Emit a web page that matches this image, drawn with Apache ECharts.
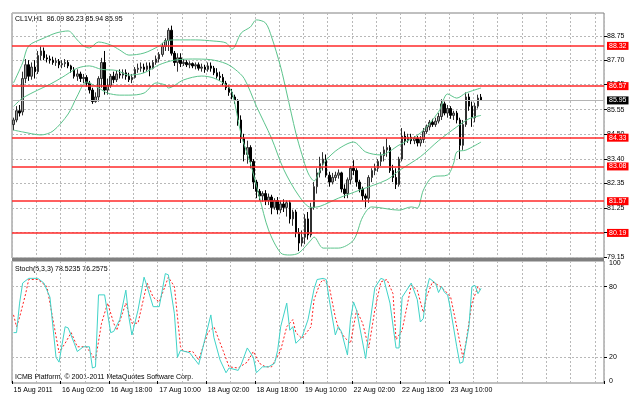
<!DOCTYPE html>
<html>
<head>
<meta charset="utf-8">
<title>CL1V,H1</title>
<script src="https://cdn.jsdelivr.net/npm/echarts@6/dist/echarts.min.js"></script>
<style>
  html, body { margin: 0; padding: 0; background: #fff; }
  #chart { width: 632px; height: 399px; }
</style>
</head>
<body>
<div id="chart"></div>
<script>
// CL1V hourly bars, 15-23 Aug 2011
var symbol = 'CL1V,H1';

var opens = [84.9,85.1,85.5,85.45,86.9,87.5,87.0,87.4,87.2,87.9, 88.1,87.8,87.75,87.7,87.6,87.65,87.5,87.55,87.6,87.45,
  87.3,87.0,87.1,86.9,86.95,86.7,86.4,85.9,86.1,86.9, 87.6,86.4,86.6,87.0,86.85,87.1,87.05,87.15,87.0,86.85,
  86.95,87.3,87.35,87.4,87.3,87.45,87.35,87.6,87.75,87.95, 88.3,88.55,89.0,88.0,87.6,87.8,87.55,87.6,87.5,87.55,
  87.45,87.5,87.35,87.4,87.3,87.45,87.35,87.15,87.0,86.95, 86.7,86.5,86.3,86.1,85.95,85.1,84.3,83.6,83.9,83.3,
  82.4,82.0,81.8,81.9,81.6,81.75,81.3,81.6,81.2,81.45, 81.3,81.5,80.8,81.1,80.2,79.75,80.0,80.8,80.1,81.3,
  82.2,82.8,83.2,83.4,82.7,82.4,82.6,82.7,82.8,82.1, 81.9,82.5,83.0,82.9,82.4,82.1,81.8,81.7,82.6,82.9,
  83.0,83.3,83.55,83.8,83.9,82.9,82.6,82.3,83.4,84.4, 84.2,84.35,84.2,84.3,84.1,84.25,84.6,84.8,85.0,84.9,
  85.05,85.25,85.8,85.4,85.6,85.3,85.4,85.1,84.0,84.9, 86.1,85.7,85.2,85.7,86.09];
var highs = [85.2,85.7,85.75,87.2,87.75,87.7,87.6,87.7,88.1,88.3, 88.25,87.95,87.9,87.85,87.8,87.75,87.7,87.75,87.7,87.5,
  87.4,87.3,87.2,87.1,87.05,86.8,86.5,86.3,87.0,87.8, 88.1,86.9,87.1,87.2,87.25,87.3,87.3,87.3,87.15,87.1,
  87.4,87.55,87.6,87.55,87.6,87.6,87.7,87.9,88.05,88.45, 88.65,89.1,89.2,88.1,88.0,88.0,87.75,87.7,87.65,87.6,
  87.6,87.6,87.55,87.5,87.6,87.6,87.45,87.35,87.2,87.1, 86.8,86.6,86.45,86.2,86.0,85.3,84.5,84.2,84.0,83.4,
  82.5,82.1,82.0,82.05,81.9,81.85,81.7,81.75,81.6,81.65, 81.6,81.6,81.2,81.2,80.4,80.3,81.0,81.1,81.5,82.4,
  83.0,83.5,83.7,83.6,82.85,82.8,82.85,82.95,82.85,82.3, 82.6,83.1,83.35,83.0,82.5,82.2,81.9,82.7,83.0,83.2,
  83.4,83.7,83.95,84.3,84.0,83.15,83.0,83.5,84.75,84.6, 84.5,84.5,84.4,84.4,84.4,84.75,84.9,85.1,85.15,85.2,
  85.4,86.0,85.9,85.75,85.7,85.5,85.5,85.2,85.1,86.3, 86.25,85.9,85.85,86.2,86.23];
var lows = [84.65,85.0,85.25,85.3,86.7,86.8,86.85,86.9,87.1,87.7, 87.7,87.6,87.55,87.5,87.45,87.35,87.35,87.4,87.35,87.15,
  86.9,86.8,86.75,86.7,86.55,86.25,85.8,85.85,85.9,86.5, 86.2,86.2,86.5,86.7,86.75,86.9,86.9,86.85,86.75,86.7,
  86.9,87.15,87.2,87.15,87.2,87.0,87.3,87.5,87.6,87.85, 88.1,88.1,87.9,87.45,87.2,87.4,87.45,87.4,87.35,87.35,
  87.3,87.25,87.2,87.15,87.2,87.2,87.05,86.9,86.8,86.6, 86.4,86.15,86.0,85.8,84.85,84.1,83.3,83.2,83.0,82.1,
  81.7,81.6,81.55,81.4,81.4,81.0,81.2,81.0,81.05,81.1, 80.9,80.6,80.5,80.0,79.4,79.6,79.7,79.9,80.0,81.2,
  81.9,82.6,82.9,82.6,82.2,82.3,82.45,82.55,81.95,81.7, 81.7,82.3,82.7,82.2,81.95,81.6,81.3,81.5,82.4,82.7,
  82.85,83.1,83.3,83.5,82.8,82.4,82.1,82.2,83.3,84.0, 84.1,84.05,84.05,83.95,83.95,84.1,84.5,84.65,84.8,84.8,
  84.95,85.1,85.3,85.2,85.15,85.1,84.95,83.4,83.8,84.8, 85.5,84.8,85.0,85.6,85.94];
var closes = [85.1,85.5,85.4,86.9,87.5,87.0,87.4,87.2,87.9,88.1, 87.8,87.75,87.7,87.6,87.65,87.5,87.55,87.6,87.45,87.3,
  87.0,87.1,86.9,86.95,86.7,86.4,85.9,86.1,86.9,87.6, 86.4,86.6,87.0,86.85,87.1,87.05,87.15,87.0,86.85,86.95,
  87.3,87.35,87.4,87.3,87.45,87.35,87.6,87.75,87.95,88.3, 88.55,89.0,88.0,87.6,87.8,87.55,87.6,87.5,87.55,87.45,
  87.5,87.35,87.4,87.3,87.45,87.35,87.15,87.0,86.95,86.7, 86.5,86.3,86.1,85.95,85.1,84.3,83.6,83.9,83.3,82.4,
  82.0,81.8,81.9,81.6,81.75,81.3,81.6,81.2,81.45,81.3, 81.5,80.8,81.1,80.2,79.75,80.0,80.8,80.1,81.3,82.2,
  82.8,83.2,83.4,82.7,82.4,82.6,82.7,82.8,82.1,81.9, 82.5,83.0,82.9,82.4,82.1,81.8,81.7,82.6,82.9,83.0,
  83.3,83.55,83.8,83.9,82.9,82.6,82.3,83.4,84.4,84.2, 84.35,84.2,84.3,84.1,84.25,84.6,84.8,85.0,84.9,85.05,
  85.25,85.8,85.4,85.6,85.3,85.4,85.1,84.0,84.9,86.1, 85.7,85.2,85.7,86.05,85.95];

// Bollinger bands, [bar, price] read at points along each curve
var upperBand = [[0,86.71],[3,87.58],[5,88.32],[10,88.66],[14,88.88],[18,88.97],[21,88.58],[23,88.32],[25,88.23],[28,88.49],
  [32,88.36],[35,88.14],[38,87.92],[43,88.01],[48,88.32],[50,88.53],[53,88.58],[60,88.58],[66,88.53],[70,88.45],
  [72,88.18],[75,88.88],[78,89.14],[80,89.45],[83,89.32],[85,88.71],[88,87.40],[90,86.27],[93,84.53],[95,83.6],
  [97,82.8],[99,82.45],[101,82.92],[103,83.36],[107,83.84],[112,84.14],[116,83.71],[121,83.58],[127,84.01],[134,84.53],
  [140,85.45],[143,86.23],[146,86.05],[149,86.27],[154,86.49]];
var middleBand = [[0,85.69],[3,86.05],[8,86.4],[12,86.65],[16,86.95],[21,87.35],[25,87.45],[29,87.3],[34,87.25],[38,87.05],
  [43,87.15],[48,87.5],[53,87.7],[59,87.75],[65,87.72],[70,87.55],[73,87.3],[76,86.9],[80,85.7],[85,84.3],
  [89,82.95],[94,81.8],[98,81.3],[101,81.35],[107,81.7],[114,82.05],[123,82.5],[127,82.9],[134,83.5],[140,84.2],
  [146,84.8],[150,85.15],[154,85.3]];
var lowerBand = [[0,84.66],[3,84.58],[9,84.45],[13,84.62],[18,85.36],[21,86.14],[24,86.75],[28,86.49],[31,86.27],[35,86.18],
  [38,86.18],[43,86.27],[47,86.71],[50,86.62],[51,86.49],[56,86.84],[62,87.01],[66,86.92],[70,86.62],[72,86.3],
  [75,84.45],[78,83.23],[81,81.75],[84,80.32],[88,79.32],[91,79.23],[94,79.32],[98,79.88],[99,80.01],[102,79.53],
  [107,79.53],[112,79.88],[115,80.88],[118,81.32],[127,81.18],[131,81.32],[133,81.27],[135,82.05],[138,82.62],[143,82.71],
  [145,83.23],[146,83.71],[149,83.79],[154,84.14]];

// Stochastic (5,3,3): main %K and signal %D, [bar, value]
var stochK = [[0,41],[1,41],[2,66],[3,83],[5,87],[8,87],[10,83],[12,71],[14,20],[15,16],[17,46],[18,45],[20,32],[21,25],
  [23,29],[25,29],[26,11],[27,12],[28,73],[30,73],[32,41],[33,42],[35,52],[37,77],[38,54],[39,39],[41,60],[43,88],
  [44,80],[46,63],[48,63],[50,91],[51,90],[53,57],[54,20],[55,26],[58,24],[61,14],[63,35],[65,56],[66,37],[68,18],
  [70,7],[71,11],[74,9],[75,14],[77,28],[79,20],[80,7],[82,12],[84,12],[86,15],[87,26],[88,46],[90,66],[91,43],
  [92,46],[93,32],[95,37],[97,52],[99,78],[100,86],[102,87],[103,86],[104,69],[106,39],[107,46],[108,42],[110,22],[111,52],
  [112,67],[113,60],[116,19],[117,41],[119,79],[121,87],[122,86],[124,66],[126,28],[127,28],[128,71],[131,83],[133,69],[134,50],
  [135,53],[136,77],[137,87],[139,83],[140,75],[141,80],[142,75],[143,73],[144,60],[146,29],[147,15],[148,16],[150,46],[151,80],
  [152,81],[153,74],[154,78.52]];
var stochD = [[0,56],[1,46],[2,54],[4,74],[5,86],[8,86],[11,80],[13,52],[15,24],[17,32],[19,41],[21,29],[24,29],[27,18],
  [29,49],[31,66],[33,49],[34,43],[37,66],[39,49],[41,49],[44,83],[46,71],[48,67],[51,88],[53,80],[55,29],[56,25],
  [59,25],[61,18],[64,41],[66,46],[69,26],[71,12],[74,11],[77,16],[79,25],[81,15],[83,12],[85,12],[88,26],[90,46],
  [92,52],[93,41],[95,36],[98,46],[99,69],[101,83],[102,86],[104,80],[106,54],[107,45],[109,37],[111,32],[113,60],[115,49],
  [117,28],[119,60],[121,84],[123,86],[125,74],[126,35],[128,43],[131,81],[133,77],[135,58],[136,71],[138,84],[140,81],[142,77],
  [144,71],[146,46],[148,20],[149,32],[151,66],[153,80],[154,76.26]];
var stochLast = [78.5235, 76.2575];

// horizontal levels drawn on the chart
var levels = [88.32, 86.57, 84.33, 83.08, 81.57, 80.19];

// axis labels
var xLabels = ['15 Aug 2011', '16 Aug 02:00', '16 Aug 18:00', '17 Aug 10:00', '18 Aug 02:00',
  '18 Aug 18:00', '19 Aug 10:00', '22 Aug 02:00', '22 Aug 18:00', '23 Aug 10:00'];
var priceTicks = [79.15, 80.20, 81.25, 82.35, 83.40, 84.50, 85.55, 86.65, 87.70, 88.75];
var stochLabels = [0, 20, 80, 100];
var stochGrid = [20, 80];

var totalSlots = 195;   // bars + empty space to the right
var labelEvery = 16;
var gridEvery = 8;

var cats = [];
for (var i = 0; i < totalSlots; i++) cats.push(i);

var candles = opens.map(function (o, i) { return [o, closes[i], lows[i], highs[i]]; });
var last = closes.length - 1;
var lastPrice = closes[last];

var font = 'Liberation Sans';
var dash = { show: true, lineStyle: { color: '#b8b8b8', type: [2, 2], width: 1 } };
function gridInt(idx) { return idx % gridEvery === 0; }
function labelInt(idx) { return idx % labelEvery === 0 && idx / labelEvery < xLabels.length; }

var header = symbol + '  ' + [opens[last], highs[last], lows[last], closes[last]]
  .map(function (v) { return v.toFixed(2); }).join(' ');

var levelLines = levels.map(function (v) {
  return {
    yAxis: v,
    lineStyle: { color: '#ff2a2a', width: 1.5, type: 'solid' },
    label: { show: true, position: 'end', distance: 3, formatter: v.toFixed(2), color: '#fff',
      backgroundColor: '#ff0000', fontSize: 7, fontFamily: font, padding: [1, 2, 0, 2] }
  };
});
levelLines.push({
  yAxis: lastPrice,
  lineStyle: { color: '#b4b4b4', width: 1, type: 'solid' },
  label: { show: true, position: 'end', distance: 3, formatter: lastPrice.toFixed(2), color: '#fff',
    backgroundColor: '#000', fontSize: 7, fontFamily: font, padding: [1, 2, 0, 2] }
});

var chart = echarts.init(document.getElementById('chart'));
chart.setOption({
  animation: false,
  backgroundColor: '#fff',
  textStyle: { fontFamily: font },
  grid: [
    { left: 12, top: 13, width: 592, height: 245, show: true, borderColor: '#808080', borderWidth: 1 },
    { left: 12, top: 261, width: 592, height: 122, show: true, borderColor: '#808080', borderWidth: 1 }
  ],
  xAxis: [
    { type: 'category', gridIndex: 0, data: cats, boundaryGap: true,
      axisLine: { show: false }, axisTick: { show: false }, axisLabel: { show: false },
      splitLine: { show: true, interval: gridInt, lineStyle: dash.lineStyle } },
    { type: 'category', gridIndex: 1, data: cats, boundaryGap: true,
      axisLine: { show: false },
      axisTick: { show: true, interval: labelInt, length: 3, lineStyle: { color: '#000' } },
      axisLabel: { show: true, interval: labelInt, align: 'left', margin: 4, fontSize: 7, color: '#000',
        formatter: function (v, idx) { return xLabels[idx / labelEvery]; } },
      splitLine: { show: true, interval: gridInt, lineStyle: dash.lineStyle } }
  ],
  yAxis: [
    { type: 'value', gridIndex: 0, position: 'right', min: 79.10, max: 89.75,
      axisLine: { show: false },
      axisTick: { show: true, customValues: priceTicks, length: 3, lineStyle: { color: '#000' } },
      axisLabel: { customValues: priceTicks, fontSize: 7, color: '#000', margin: 3,
        formatter: function (v) { return v.toFixed(2); } },
      splitLine: dash },
    { type: 'value', gridIndex: 1, position: 'right', min: -1.7, max: 101.7,
      axisLine: { show: false },
      axisTick: { show: true, customValues: stochGrid, length: 3, lineStyle: { color: '#000' } },
      axisLabel: { customValues: stochLabels, fontSize: 7, color: '#000', margin: 5,
        formatter: function (v) { return String(v); } },
      splitLine: dash }
  ],
  series: [
    { type: 'candlestick', xAxisIndex: 0, yAxisIndex: 0, data: candles, barWidth: 2,
      itemStyle: { color: '#a0a0a0', color0: '#000', borderColor: '#303030', borderColor0: '#000', borderWidth: 1 },
      markLine: { silent: true, symbol: ['none', 'none'], animation: false, data: levelLines } },
    { type: 'line', name: 'upper', xAxisIndex: 0, yAxisIndex: 0, data: upperBand, showSymbol: false, smooth: 0.3,
      lineStyle: { color: '#5cc48c', width: 1 } },
    { type: 'line', name: 'middle', xAxisIndex: 0, yAxisIndex: 0, data: middleBand, showSymbol: false, smooth: 0.3,
      lineStyle: { color: '#5cc48c', width: 1 } },
    { type: 'line', name: 'lower', xAxisIndex: 0, yAxisIndex: 0, data: lowerBand, showSymbol: false, smooth: 0.3,
      lineStyle: { color: '#5cc48c', width: 1 } },
    { type: 'line', name: '%D', xAxisIndex: 1, yAxisIndex: 1, data: stochD, showSymbol: false,
      lineStyle: { color: '#ff2020', width: 1, type: [2, 2] } },
    { type: 'line', name: '%K', xAxisIndex: 1, yAxisIndex: 1, data: stochK, showSymbol: false,
      lineStyle: { color: '#3fd3c8', width: 1 } }
  ],
  graphic: [
    { type: 'rect', shape: { x: 12, y: 258, width: 592, height: 3 }, style: { fill: '#808080' }, silent: true },
    { type: 'text', left: 15, top: 16, style: { text: header, fontSize: 7, fontFamily: font, fill: '#000' } },
    { type: 'text', left: 15, top: 266, style: { text: 'Stoch(5,3,3) ' + stochLast[0].toFixed(4) + ' ' + stochLast[1].toFixed(4),
      fontSize: 7, fontFamily: font, fill: '#000' } },
    { type: 'text', left: 15, top: 374, style: { text: 'ICMB Platform, \u00a9 2001-2011 MetaQuotes Software Corp.',
      fontSize: 7, fontFamily: font, fill: '#000' } }
  ]
});
</script>
</body>
</html>
